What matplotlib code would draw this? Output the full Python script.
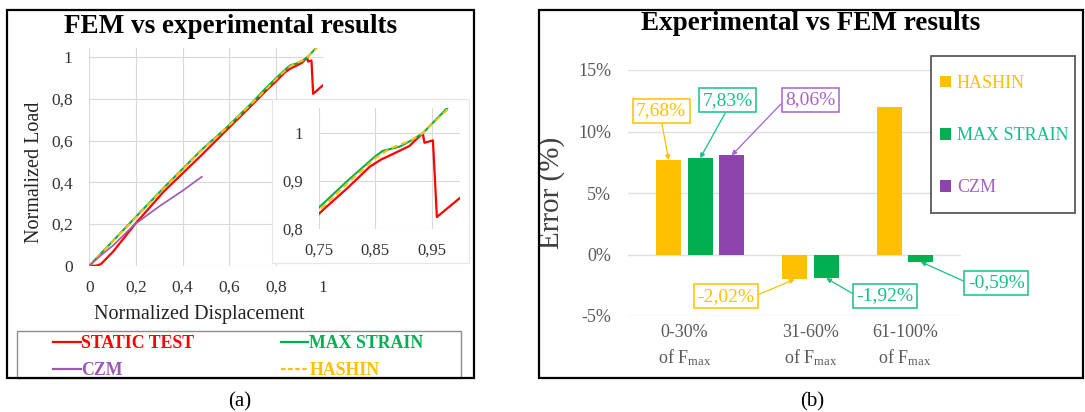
import numpy as np
import matplotlib
matplotlib.use("Agg")
import matplotlib.pyplot as plt
from matplotlib.patches import Rectangle
from matplotlib.lines import Line2D
from matplotlib.ticker import FuncFormatter

plt.rcParams['font.family'] = ['Liberation Serif', 'DejaVu Serif']
plt.rcParams['mathtext.fontset'] = 'custom'
plt.rcParams['mathtext.rm'] = 'Liberation Serif'
plt.rcParams['mathtext.it'] = 'Liberation Serif:italic'
plt.rcParams['mathtext.bf'] = 'Liberation Serif:bold'

# ---- (a) normalized load vs normalized displacement ----
static_disp = [0.00, 0.03, 0.05, 0.10, 0.15, 0.20, 0.32, 0.48, 0.59, 0.70, 0.76, 0.80,
               0.84, 0.86, 0.88, 0.91, 0.934, 0.937, 0.952, 0.959, 1.00]
static_load = [0.00, 0.00, 0.008, 0.065, 0.135, 0.205, 0.357, 0.530, 0.653, 0.775, 0.843,
               0.885, 0.930, 0.945, 0.956, 0.973, 1.000, 0.980, 0.985, 0.825, 0.865]

maxstrain_disp = [0.00, 0.20, 0.32, 0.48, 0.59, 0.70, 0.75, 0.80, 0.85, 0.863, 0.893,
                  0.917, 0.934, 1.00]
maxstrain_load = [0.00, 0.235, 0.375, 0.555, 0.665, 0.785, 0.845, 0.900, 0.952, 0.963,
                  0.972, 0.987, 1.000, 1.080]

hashin_disp = [0.00, 0.20, 0.32, 0.48, 0.59, 0.70, 0.75, 0.80, 0.85, 0.876, 0.911,
               0.934, 1.00]
hashin_load = [0.00, 0.232, 0.372, 0.552, 0.663, 0.783, 0.838, 0.895, 0.948, 0.968,
               0.984, 1.000, 1.075]

czm_disp = [0.00, 0.05, 0.10, 0.196, 0.30, 0.40, 0.482]
czm_load = [0.00, 0.050, 0.095, 0.200, 0.285, 0.360, 0.427]

# ---- (b) error of the FEM models per load range ----
load_ranges = ['0-30%', '31-60%', '61-100%']
hashin_err = [7.68, -2.02, 12.0]
maxstrain_err = [7.83, -1.92, -0.59]
czm_err = [8.06, np.nan, np.nan]

RED = '#FF0000'
GREEN = '#00B050'
GREEN_TXT = '#17BF85'
PURPLE_LINE = '#9B59B6'
PURPLE = '#8E44AD'
PURPLE_TXT = '#A463C8'
YELLOW = '#FFC000'
GRID = '#D9D9D9'

W, H = 1085, 412
fig = plt.figure(figsize=(W / 100, H / 100), dpi=100)


def box(l, t, r, b):
    return [l / W, 1 - b / H, (r - l) / W, (b - t) / H]


def fig_rect(l, t, r, b, **kw):
    p = Rectangle((l / W, 1 - b / H), (r - l) / W, (b - t) / H,
                  transform=fig.transFigure, **kw)
    fig.add_artist(p)
    return p


comma = FuncFormatter(lambda v, pos: ('%g' % round(v, 4)).replace('.', ','))

# main load-displacement axes
ax1 = fig.add_axes(box(89.3, 48, 322.7, 265.7), zorder=1)
curves = [
    (static_disp, static_load, dict(color=RED, lw=1.6)),
    (maxstrain_disp, maxstrain_load, dict(color=GREEN, lw=1.5)),
    (hashin_disp, hashin_load, dict(color=YELLOW, lw=1.5, ls=(0, (3, 2)))),
    (czm_disp, czm_load, dict(color=PURPLE_LINE, lw=1.2)),
]
for xd, yd, st in curves:
    ax1.plot(xd, yd, **st)
ax1.set_xlim(0, 1)
ax1.set_ylim(0, 1.045)
ax1.set_xticks(np.arange(0, 1.01, 0.2))
ax1.set_yticks(np.arange(0, 1.01, 0.2))
ax1.xaxis.set_major_formatter(comma)
ax1.yaxis.set_major_formatter(comma)
ax1.grid(True, color=GRID, lw=0.8)
ax1.set_axisbelow(True)
for s in ax1.spines.values():
    s.set_visible(False)
ax1.tick_params(length=0, labelsize=12.5, colors='#333333')
ax1.tick_params(axis='y', pad=12)
ax1.tick_params(axis='x', pad=10)
ax1.set_xlabel('Normalized Displacement', fontsize=14.5, color='#222222')
ax1.set_ylabel('Normalized Load', fontsize=14.5, color='#222222')
ax1.xaxis.set_label_coords(0.472, -0.18)
ax1.yaxis.set_label_coords(-0.195, 0.43)

# zoomed view near the peak load
fig_rect(272, 99, 469, 263, facecolor='white', edgecolor='#E6E6E6', lw=0.8, zorder=2)
ax_in = fig.add_axes(box(319, 108, 460, 229), zorder=3)
for xd, yd, st in curves[:3]:
    ax_in.plot(xd, yd, **st)
ax_in.set_xlim(0.75, 1.0)
ax_in.set_ylim(0.8, 1.0526)
ax_in.set_xticks([0.75, 0.85, 0.95])
ax_in.set_yticks([0.8, 0.9, 1.0])
ax_in.xaxis.set_major_formatter(comma)
ax_in.yaxis.set_major_formatter(comma)
ax_in.grid(True, color=GRID, lw=0.8)
ax_in.set_axisbelow(True)
for s in ax_in.spines.values():
    s.set_visible(False)
ax_in.tick_params(length=0, labelsize=12, colors='#333333')
ax_in.tick_params(axis='y', pad=11.5)
ax_in.tick_params(axis='x', pad=10)

fig.text(231 / W, 1 - 33 / H, 'FEM vs experimental results', ha='center',
         va='baseline', fontsize=19.5, fontweight='bold')

# legend of panel (a)
fig_rect(17, 331, 461, 378, facecolor='none', edgecolor='#8C8C8C', lw=1.0, zorder=4)
leg_a_items = [('STATIC TEST', RED, '-'), ('CZM', PURPLE_LINE, '-'),
               ('MAX STRAIN', GREEN, '-'), ('HASHIN', YELLOW, (0, (2, 1.2)))]
handles_a = [Line2D([], [], color=c, lw=1.6, ls=ls) for _, c, ls in leg_a_items]
leg_a = fig.legend(handles_a, [t for t, _, _ in leg_a_items], loc='upper left',
                   bbox_to_anchor=(53 / W, 1 - 335 / H), ncol=2, frameon=False,
                   borderpad=0, borderaxespad=0, handlelength=1.55, handletextpad=0.05,
                   columnspacing=4.85, labelspacing=0.55,
                   prop=dict(weight='bold', size=12.8))
for txt, (_, c, _) in zip(leg_a.get_texts(), leg_a_items):
    txt.set_color(c)

fig.text(240 / W, 1 - 402 / H, '(a)', ha='center', va='center', fontsize=15)

# ---- (b) bar chart ----
ax2 = fig.add_axes(box(628, 70, 961, 316), zorder=1)
group_x = np.array([0.0, 4.0, 7.0])
bar_w = 0.79
series = [('HASHIN', hashin_err, YELLOW, YELLOW),
          ('MAX STRAIN', maxstrain_err, GREEN, GREEN_TXT),
          ('CZM', czm_err, PURPLE, PURPLE_TXT)]
bar_handles = []
for k, (name, vals, col, _) in enumerate(series):
    vals = np.asarray(vals, dtype=float)
    ok = np.isfinite(vals)
    bc = ax2.bar(group_x[ok] + k, vals[ok], width=bar_w, color=col, label=name, zorder=2)
    bar_handles.append(bc)

ax2.set_xlim(-1.29, 9.28)
ax2.set_ylim(-5, 15)
ax2.set_yticks([-5, 0, 5, 10, 15])
ax2.yaxis.set_major_formatter(FuncFormatter(lambda v, pos: '%d%%' % v))
ax2.set_xticks(group_x + 0.5)
ax2.set_xticklabels([r + '\nof F$_{\\mathregular{max}}$' for r in load_ranges],
                    linespacing=1.35)
ax2.grid(True, axis='y', color='#E0E0E0', lw=1.0)
ax2.set_axisbelow(True)
for s in ax2.spines.values():
    s.set_visible(False)
ax2.tick_params(length=0, labelsize=13, colors='#595959')
ax2.tick_params(axis='y', pad=12)
ax2.tick_params(axis='x', pad=6)
ax2.set_ylabel('Error (%)', fontsize=21, color='#404040')
ax2.yaxis.set_label_coords(-0.19, 0.5)

# value call-outs: (series index, group index, box offset in px, arrow start on box)
callouts = [
    (0, 0, (-7.5, 49.0), (0.5, 0.0)),
    (1, 0, (27.5, 58.0), (0.5, 0.0)),
    (2, 0, (78.5, 55.6), (0.0, 0.5)),
    (0, 1, (-68.5, -16.8), (1.0, 0.5)),
    (1, 1, (58.5, -17.5), (0.0, 0.5)),
    (1, 2, (75.5, -21.2), (0.0, 0.5)),
]
for k, g, (dx, dy), rp in callouts:
    _, vals, _, tcol = series[k]
    v = vals[g]
    label = ('%.2f%%' % v).replace('.', ',')
    ax2.annotate(label, xy=(group_x[g] + k, v), xytext=(dx * 0.72, dy * 0.72),
                 textcoords='offset points', ha='center', va='center', fontsize=14,
                 color=tcol, annotation_clip=False, zorder=5,
                 bbox=dict(boxstyle='square,pad=0.18', fc='white', ec=tcol, lw=1.1),
                 arrowprops=dict(arrowstyle='-|>', color=tcol, lw=0.9, mutation_scale=7,
                                 shrinkA=0, shrinkB=0, relpos=rp))

fig.text(811 / W, 1 - 30 / H, 'Experimental vs FEM results', ha='center',
         va='baseline', fontsize=19.5, fontweight='bold')

# legend of panel (b)
fig_rect(931, 56, 1075, 213, facecolor='white', edgecolor='#595959', lw=1.3, zorder=2)
leg_b = fig.legend(bar_handles, [s[0] for s in series], loc='upper left',
                   bbox_to_anchor=(940 / W, 1 - 75 / H), frameon=False, borderpad=0,
                   borderaxespad=0, handlelength=0.6, handleheight=0.6,
                   handletextpad=0.33, labelspacing=1.95, prop=dict(size=13))
for txt, s in zip(leg_b.get_texts(), series):
    txt.set_color(s[3])

fig.text(812 / W, 1 - 402 / H, '(b)', ha='center', va='center', fontsize=15)

# panel frames
fig_rect(7, 10, 474, 378, facecolor='none', edgecolor='black', lw=1.6, zorder=10)
fig_rect(539, 10, 1083, 378, facecolor='none', edgecolor='black', lw=1.6, zorder=10)

fig.savefig('out.png', dpi=100)
